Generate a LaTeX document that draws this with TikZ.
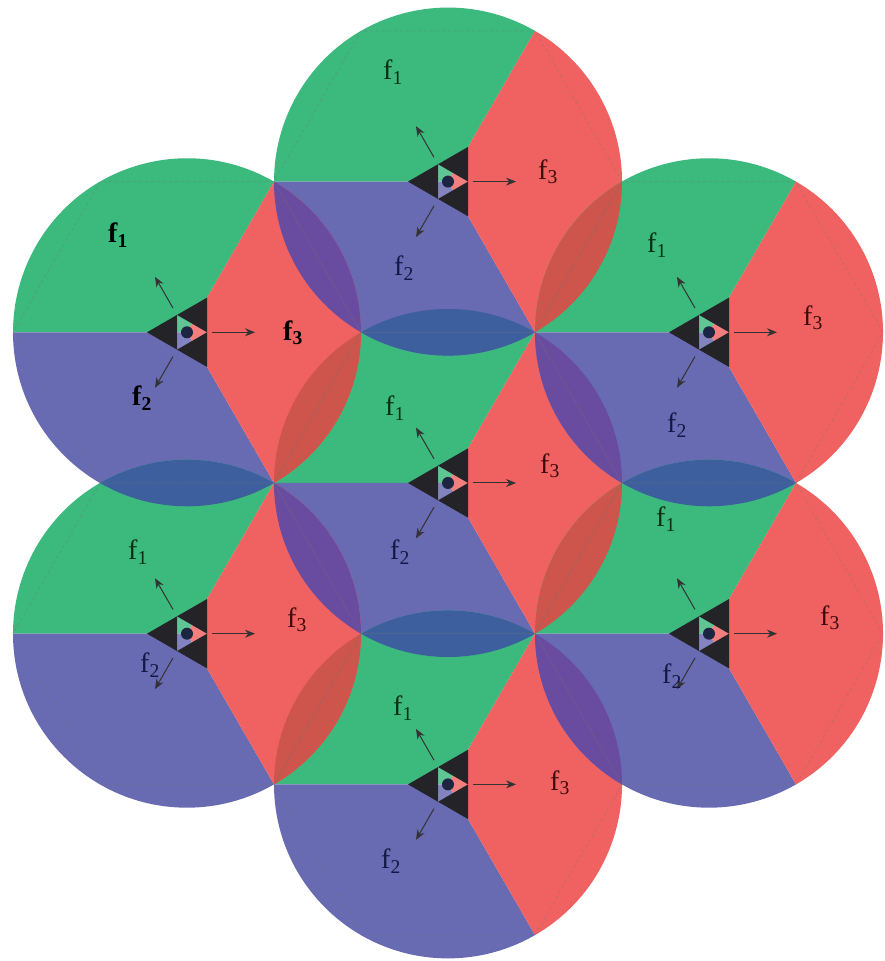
\documentclass[tikz,border=0pt]{standalone}
\usepackage{fontspec}
\setmainfont{Liberation Serif}
\usetikzlibrary{arrows.meta, calc}
\definecolor{sectorone}  {RGB}{ 60, 185, 125}
\definecolor{sectortwo}  {RGB}{104, 106, 178}
\definecolor{sectorthree}{RGB}{240,  98,  98}
\definecolor{lensbg}     {RGB}{ 61,  95, 158}
\definecolor{lensrg}     {RGB}{205,  85,  75}
\definecolor{lensrb}     {RGB}{105,  75, 160}
\definecolor{labone}     {RGB}{ 10,  45,  22}
\definecolor{labtwo}     {RGB}{ 20,  24,  70}
\definecolor{labthree}   {RGB}{ 60,  10,  10}
\definecolor{antcolor}   {RGB}{ 35,  35,  40}
\definecolor{dotcolor}   {RGB}{ 28,  37,  65}
\newcommand\cellR{174pt}
\tikzset{
	hexline/.style={
		draw=black!55, dashed, line width=0.5pt, draw opacity=0.5
	},
	beam/.style={
		-{Stealth[length=10pt, width=8pt]}, line width=1pt, color=black!80
	},
	antenna/.style={fill=antcolor},
	flabel/.style={
		font=\fontsize{28}{30}\selectfont, inner sep=0pt
	},
	blabel/.style={
		font=\fontsize{28}{30}\selectfont\bfseries, inner sep=0pt, text=black
	}
}
\begin{document}
\begin{tikzpicture}[x=1pt, y=1pt]
		\useasboundingbox (0,0) rectangle (884,961);
		
		%% ═══════════════════════════════
		%%  CELL CENTRES
		%% ═══════════════════════════════
		\coordinate (C)  at (448,478);
		\coordinate (T)  at (448,779.4);
		\coordinate (B)  at (448,176.6);
		\coordinate (UL) at (187,628.7);
		\coordinate (UR) at (709,628.7);
		\coordinate (LL) at (187,327.3);
		\coordinate (LR) at (709,327.3);
		
		%% ═══════════════════════════════
		%%  SECTORS  (f1 / f2 / f3)
		%% ═══════════════════════════════
		\foreach \cell in {C,T,B,UL,UR,LL,LR} {
			\fill[sectorone]   (\cell) -- ++(60:\cellR)  arc[start angle=60,  end angle=180, radius=\cellR] -- cycle;
			\fill[sectortwo]   (\cell) -- ++(180:\cellR) arc[start angle=180, end angle=300, radius=\cellR] -- cycle;
			\fill[sectorthree] (\cell) -- ++(300:\cellR) arc[start angle=300, end angle=420, radius=\cellR] -- cycle;
		}
		
		%% ═══════════════════════════════
		%%  OVERLAPS
		%% ═══════════════════════════════
		\foreach \a/\b/\col in {T/C/lensbg, C/B/lensbg, UL/LL/lensbg, UR/LR/lensbg,
			UL/C/lensrg, T/UR/lensrg, LL/B/lensrg, C/LR/lensrg,
			LL/C/lensrb, C/UR/lensrb, UL/T/lensrb, B/LR/lensrb} {
			\begin{scope}
				\clip (\a) circle[radius=\cellR];
				\fill[\col] (\b) circle[radius=\cellR];
			\end{scope}
		}
		
		% hexagonal cells
		\foreach \cell in {C,T,B,UL,UR,LL,LR}
		\draw[hexline, shift={(\cell)}] (0:\cellR) -- (60:\cellR) -- (120:\cellR)
		-- (180:\cellR) -- (240:\cellR) -- (300:\cellR) -- cycle;
		
		%% ═══════════════════════════════
		%%  ANTENNAS + BEAMS
		%% ═══════════════════════════════
		\foreach \cell in {C,T,B,UL,UR,LL,LR} {
			\begin{scope}[shift={(\cell)}]
				\fill[antenna] (180:40pt) -- (120:20pt) -- (240:20pt) -- cycle;
				\fill[antenna] (60:40pt)  -- (0:20pt)   -- (120:20pt) -- cycle;
				\fill[antenna] (300:40pt) -- (240:20pt) -- (0:20pt)   -- cycle;
				\fill[white, opacity=0.18] (0:20pt) -- (120:20pt) -- (240:20pt) -- cycle;
				\fill[dotcolor] (0,0) circle[radius=6pt];
				\draw[beam] (120:28pt) -- (120:64pt);
				\draw[beam] (0:25pt)   -- (0:68pt);
				\draw[beam] (240:28pt) -- (240:64pt);
			\end{scope}
		}
		
		%% ═══════════════════════════════
		%%  LABELS
		%% ═══════════════════════════════
		\node[flabel, text=labone]   (T-f1)  at (393,889) {f\textsubscript{1}};
		\node[flabel, text=labthree] (T-f3)  at (548,789) {f\textsubscript{3}};
		\node[flabel, text=labtwo]   (T-f2)  at (404,693) {f\textsubscript{2}};
		
		\node[blabel] (UL-f1) at (118,726) {f\textsubscript{1}};
		\node[blabel] (UL-f3) at (293,628) {f\textsubscript{3}};
		\node[blabel] (UL-f2) at (142,563) {f\textsubscript{2}};
		
		\node[flabel, text=labone]   (UR-f1) at (657,716) {f\textsubscript{1}};
		\node[flabel, text=labthree] (UR-f3) at (813,643) {f\textsubscript{3}};
		\node[flabel, text=labtwo]   (UR-f2) at (677,536) {f\textsubscript{2}};
		
		\node[flabel, text=labone]   (C-f1)  at (395,553) {f\textsubscript{1}};
		\node[flabel, text=labthree] (C-f3)  at (550,495) {f\textsubscript{3}};
		\node[flabel, text=labtwo]   (C-f2)  at (400,409) {f\textsubscript{2}};
		
		\node[flabel, text=labone]   (LL-f1) at (138,409) {f\textsubscript{1}};
		\node[flabel, text=labthree] (LL-f3) at (297,341) {f\textsubscript{3}};
		\node[flabel, text=labtwo]   (LL-f2) at (150,296) {f\textsubscript{2}};
		
		\node[flabel, text=labone]   (LR-f1) at (666,442) {f\textsubscript{1}};
		\node[flabel, text=labthree] (LR-f3) at (830,343) {f\textsubscript{3}};
		\node[flabel, text=labtwo]   (LR-f2) at (672,285) {f\textsubscript{2}};
		
		\node[flabel, text=labone]   (B-f1)  at (403,253) {f\textsubscript{1}};
		\node[flabel, text=labthree] (B-f3)  at (560,178) {f\textsubscript{3}};
		\node[flabel, text=labtwo]   (B-f2)  at (391,100) {f\textsubscript{2}};
	\end{tikzpicture}
\end{document}
